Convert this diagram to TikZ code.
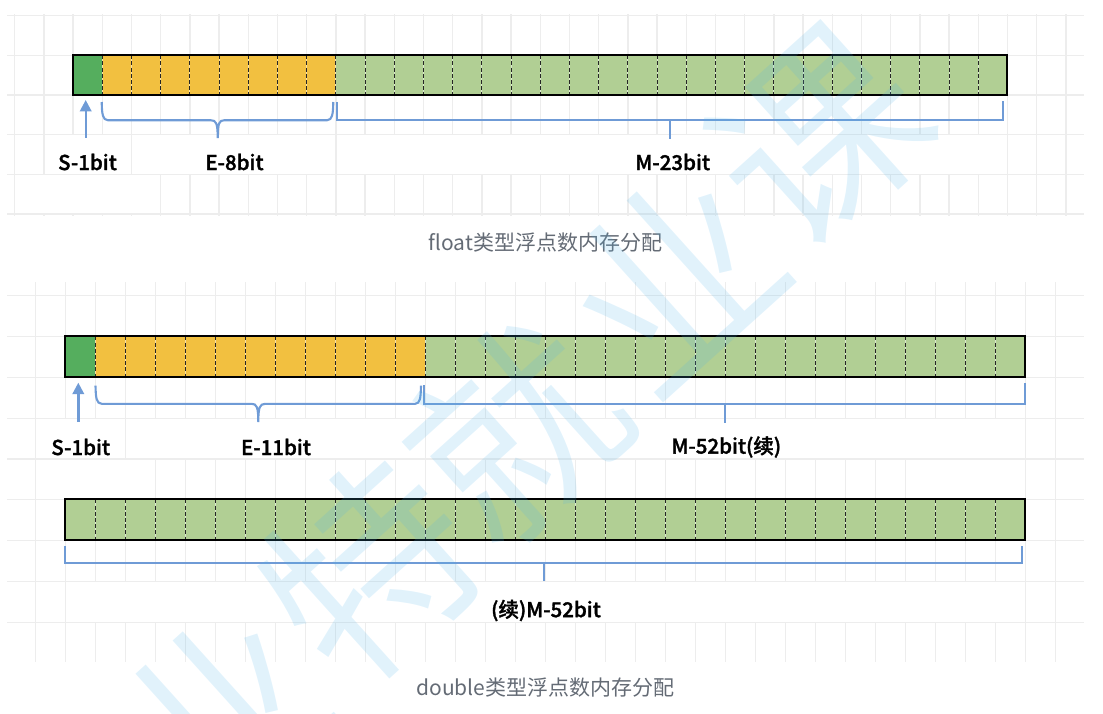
\documentclass[tikz,border=0pt]{standalone}
\usepackage{fontspec}
\usetikzlibrary{arrows.meta}
\newfontfamily\labfont[FakeBold=1.5]{Noto Sans CJK SC Medium}
\newfontfamily\capfont{Noto Sans CJK SC}
\newfontfamily\wmfont{Noto Sans CJK SC DemiLight}
\definecolor{gridc}{HTML}{EDEDED}
\definecolor{sgreen}{HTML}{55AE5E}
\definecolor{eyellow}{HTML}{F2C040}
\definecolor{mgreen}{HTML}{B1CF94}
\definecolor{brk}{HTML}{6F9BD6}
\definecolor{capc}{HTML}{646B75}
\definecolor{wmc}{HTML}{4DB3EA}
\tikzset{
  gridline/.style={draw=gridc,line width=1.3pt},
  cell/.style={draw=none,inner sep=0pt,outer sep=0pt,minimum height=#1},
  cell/.default=40pt,
  frame/.style={draw=black,line width=1.8pt,fill=none},
  divw/.style={draw=white,line width=0.9pt,opacity=.55},
  divd/.style={draw=black!85,line width=1.1pt,dash pattern=on 4pt off 2.2pt},
  brace/.style={draw=brk,line width=2.1pt,line join=miter},
  arr/.style={draw=brk,line width=2.4pt,-{Triangle[width=11.5pt,length=11.5pt]}},
  lab/.style={inner sep=0pt,text=black,font=\labfont\fontsize{20.5}{22}\selectfont},
  captext/.style={inner sep=0pt,text=capc,font=\capfont\fontsize{21}{24}\selectfont},
  wm/.style={inner sep=0pt,rotate=42,text=wmc,text opacity=.17,font=\wmfont\fontsize{205}{220}\selectfont},
}
\begin{document}
\begin{tikzpicture}[x=1pt,y=-1pt]
\useasboundingbox (0,0) rectangle (1103,714);
% ---------- top grid
\foreach \y in {15.7,55.3,95,134.7,174.3,214} \draw[gridline] (7,\y) -- (1084,\y);
\foreach \k in {0,...,36} {
  \pgfmathsetmacro\x{14.7+29.2*\k}
  \draw[gridline] (\x,14) -- (\x,134.7);
  \draw[gridline] (\x,214) -- (\x,216.5);
}
\foreach \k in {0,1,4,11,34,35,36} {
  \pgfmathsetmacro\x{14.7+29.2*\k}
  \draw[gridline] (\x,134.7) -- (\x,174.3);
}
\foreach \k in {0,5,6,...,36} {
  \pgfmathsetmacro\x{14.7+29.2*\k}
  \draw[gridline] (\x,174.3) -- (\x,214);
}
% ---------- bottom grid
\foreach \y in {295.7,336.3,377.3,418.3,459,499.3,540.3,581.3,622.3} \draw[gridline] (7,\y) -- (1084,\y);
\foreach \k in {0,...,34} {
  \pgfmathsetmacro\x{35.3+30*\k}
  \draw[gridline] (\x,282.3) -- (\x,418.3);
  \draw[gridline] (\x,499.3) -- (\x,581.3);
  \draw[gridline] (\x,622.3) -- (\x,661.7);
}
\foreach \k in {0,3,13,33,34} {
  \pgfmathsetmacro\x{35.3+30*\k}
  \draw[gridline] (\x,418.3) -- (\x,459);
}
\foreach \k in {0,4,5,...,29,33,34} {
  \pgfmathsetmacro\x{35.3+30*\k}
  \draw[gridline] (\x,459) -- (\x,499.3);
}
\foreach \k in {0,1,33,34} {
  \pgfmathsetmacro\x{35.3+30*\k}
  \draw[gridline] (\x,581.3) -- (\x,622.3);
}
% ---------- float bar
\node[cell=39.7pt,fill=sgreen,minimum width=29.3pt]  (fs) at (87.35,75.15) {};
\node[cell=39.7pt,fill=eyellow,minimum width=233.7pt] (fe) at (218.85,75.15) {};
\node[cell=39.7pt,fill=mgreen,minimum width=671.6pt] (fm) at (671.5,75.15) {};
\foreach \k in {1,...,31} {
  \pgfmathsetmacro\x{72.7+29.2*\k+0.4}
  \draw[divw] (\x,55.3) -- (\x,95);
  \draw[divd] (\x,55.3) -- (\x,95);
}
\draw[frame] (fs.north west) rectangle (fm.south east);
% ---------- double bar 1
\node[cell=41pt,fill=sgreen,minimum width=30pt]  (ds) at (80.3,356.8) {};
\node[cell=41pt,fill=eyellow,minimum width=330pt] (de) at (260.3,356.8) {};
\node[cell=41pt,fill=mgreen,minimum width=600pt] (dm) at (725.3,356.8) {};
\foreach \k in {1,...,31} {
  \pgfmathsetmacro\x{65.3+30*\k}
  \draw[divw] (\x,336.3) -- (\x,377.3);
  \draw[divd] (\x,336.3) -- (\x,377.3);
}
\draw[frame] (ds.north west) rectangle (dm.south east);
% ---------- double bar 2
\node[cell=41pt,fill=mgreen,minimum width=960pt] (dn) at (545.3,519.8) {};
\foreach \k in {0,...,31} {
  \pgfmathsetmacro\x{65.3+30*\k}
  \draw[divw] (\x,499.3) -- (\x,540.3);
  \draw[divd] (\x,499.3) -- (\x,540.3);
}
\draw[frame] (dn.north west) rectangle (dn.south east);
% ---------- labels
\node[lab] (l1) at (87.5,162) {S-1bit};
\node[lab] (l2) at (234.5,162) {E-8bit};
\node[lab] (l3) at (672.7,162) {M-23bit};
\node[lab] (l4) at (80.7,447) {S-1bit};
\node[lab] (l5) at (276,447) {E-11bit};
\node[lab] (l6) at (726.3,447) {M-52bit(续)};
\node[lab] (l7) at (546,610.5) {(续)M-52bit};
\node[captext] (c1) at (545.5,242.5) {float类型浮点数内存分配};
\node[captext] (c2) at (545.3,687.5) {double类型浮点数内存分配};
% ---------- arrows and brackets
\coordinate (af) at (85.7,138); \coordinate (ah) at (85.7,100);
\draw[arr] (af) -- (ah);
\coordinate (bf) at (78.3,422); \coordinate (bh) at (78.3,382.7);
\draw[arr] (bf) -- (bh);
\coordinate (e1a) at (101.7,102); \coordinate (e1t) at (217.7,138); \coordinate (e1b) at (333.3,102);
\draw[brace] (e1a) .. controls (102,114) and (102.5,120) .. (108,120.3) -- (211,120.3)
  .. controls (216,120.3) and (217.7,123) .. (e1t)
  .. controls (217.7,123) and (219.4,120.3) .. (224,120.3) -- (327,120.3)
  .. controls (332.5,120) and (333,114) .. (e1b);
\coordinate (e2a) at (95.5,385.7); \coordinate (e2t) at (258.3,422); \coordinate (e2b) at (421,385.7);
\draw[brace] (e2a) .. controls (95.8,398) and (96.3,403.6) .. (102,403.9) -- (252,403.9)
  .. controls (256.6,403.9) and (258.3,407) .. (e2t)
  .. controls (258.3,407) and (260,403.9) .. (265,403.9) -- (415,403.9)
  .. controls (420.2,403.6) and (420.7,398) .. (e2b);
\coordinate (m1a) at (336.7,102); \coordinate (m1b) at (1002.7,101);
\coordinate (m1t) at (670,120); \coordinate (m1u) at (670,139.3);
\draw[brace] (m1a) |- (m1t) -| (m1b);
\draw[brace] (m1t) -- (m1u);
\coordinate (m2a) at (424,385); \coordinate (m2b) at (1025,383.3);
\coordinate (m2t) at (725.3,403.7); \coordinate (m2u) at (725.3,423.3);
\draw[brace] (m2a) |- (m2t) -| (m2b);
\draw[brace] (m2t) -- (m2u);
\coordinate (m3a) at (65.3,546); \coordinate (m3b) at (1022,546);
\coordinate (m3t) at (544.3,563.3); \coordinate (m3u) at (544.3,580.7);
\draw[brace] (m3a) |- (m3t) -| (m3b);
\draw[brace] (m3t) -- (m3u);
% ---------- watermark
\begin{scope}
\clip (0,0) rectangle (1103,714);
\node[wm] (w1) at (218,718) {业};
\node[wm] (w2) at (370,570) {特};
\node[wm] (w3) at (515,432) {就};
\node[wm] (w4) at (672,278) {业};
\node[wm] (w5) at (820,138) {课};
\end{scope}
\end{tikzpicture}
\end{document}
